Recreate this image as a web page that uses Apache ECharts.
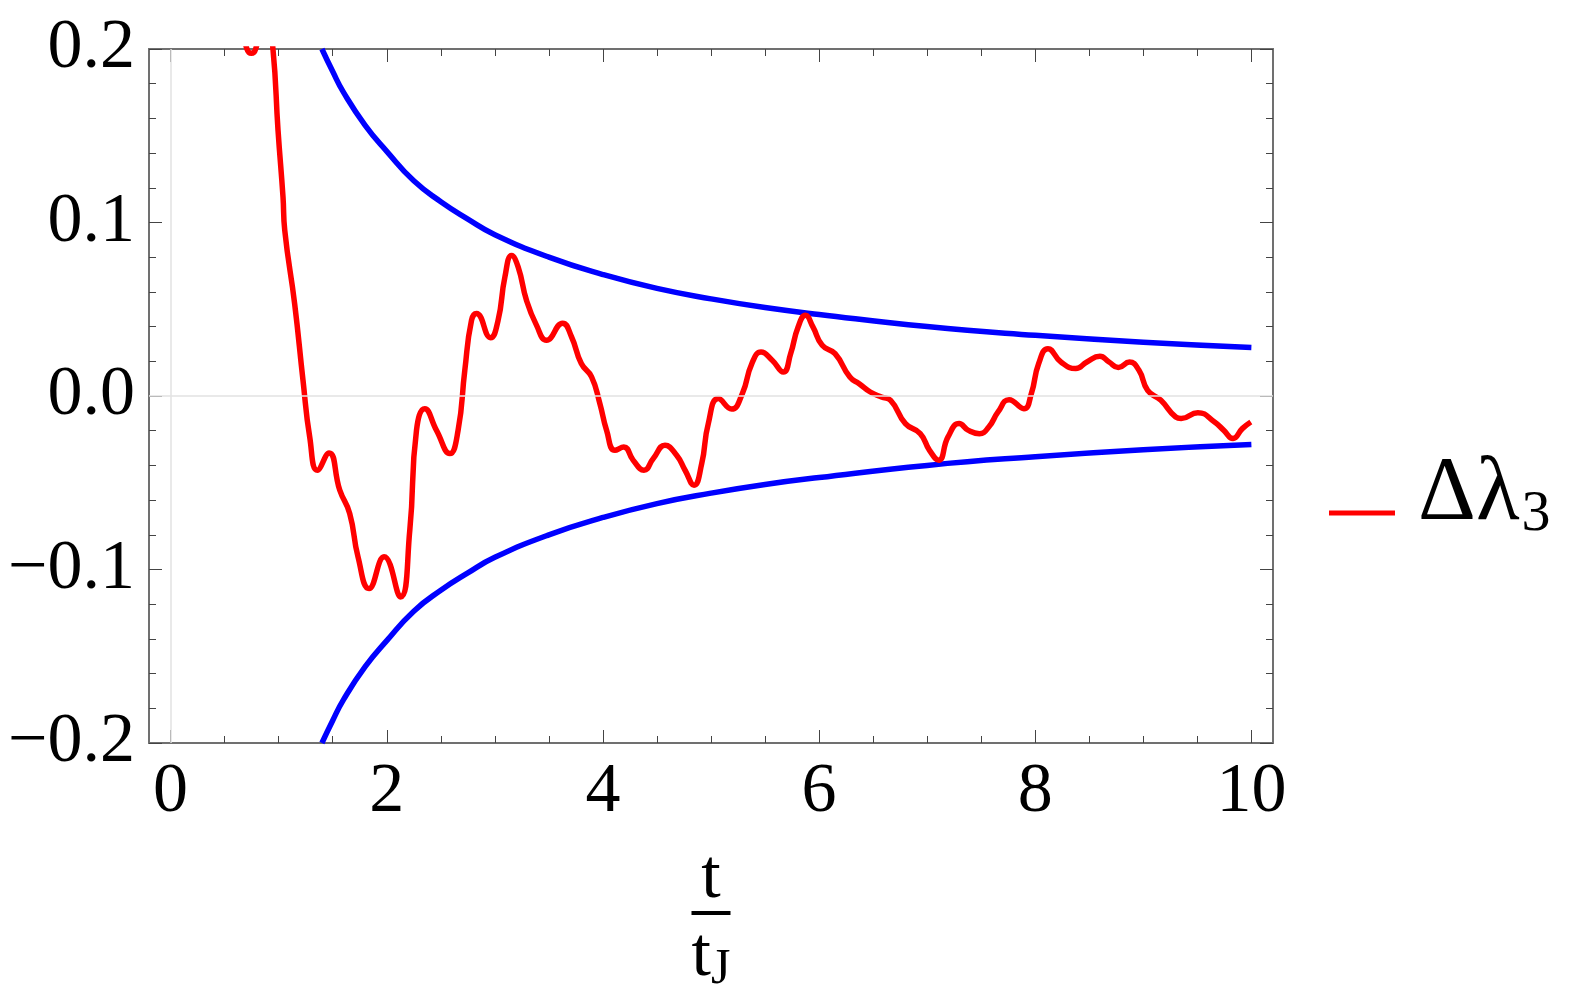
<!DOCTYPE html>
<html lang="en">
<head>
<meta charset="UTF-8">
<title>Δλ3 vs t/tJ</title>
<script src="https://cdn.jsdelivr.net/npm/echarts@6/dist/echarts.min.js"></script>
<style>
  html, body { margin: 0; padding: 0; background: #fff; }
</style>
</head>
<body>
<div id="main" style="width: 1578px;height:997px;"></div>
<script>
  // ticks
  const xMajor = [0, 2, 4, 6, 8, 10];
  const xMinor = [0.5, 1, 1.5, 2.5, 3, 3.5, 4.5, 5, 5.5, 6.5, 7, 7.5, 8.5, 9, 9.5];

  // envelope curves
  const envT = [1.4, 1.5, 1.6, 1.8, 2, 2.25, 2.5, 2.75, 3, 3.5, 4, 4.5, 5, 5.5, 6, 7, 8, 9, 10];
  const envUpper = [0.200, 0.187, 0.175, 0.156, 0.141, 0.124, 0.112, 0.102, 0.093, 0.080, 0.070, 0.062, 0.056, 0.051, 0.047, 0.040, 0.035, 0.031, 0.028];
  const envLower = [-0.200, -0.187, -0.175, -0.156, -0.141, -0.124, -0.112, -0.102, -0.093, -0.080, -0.070, -0.062, -0.056, -0.051, -0.047, -0.040, -0.035, -0.031, -0.028];

  // Δλ3 curve
  const redT = [0.60, 0.66, 0.706, 0.747, 0.787, 0.83, 0.87, 0.947, 0.994, 1.04, 1.056, 1.148, 1.225, 1.287, 1.358,
    1.466, 1.565, 1.657, 1.734, 1.836, 1.975, 2.127, 2.213, 2.275, 2.352, 2.46, 2.583, 2.66, 2.722, 2.784,
    2.83, 2.96, 3.03, 3.093, 3.155, 3.216, 3.293, 3.386, 3.478, 3.627, 3.71, 3.8, 3.895, 3.972, 4.034,
    4.111, 4.194, 4.28, 4.38, 4.466, 4.574, 4.682, 4.76, 4.843, 4.914, 4.975, 5.068, 5.19, 5.29, 5.378,
    5.463, 5.566, 5.669, 5.737, 5.806, 5.874, 5.943, 6.029, 6.148, 6.285, 6.371, 6.474, 6.577, 6.662, 6.799,
    6.936, 7.022, 7.107, 7.193, 7.296, 7.382, 7.484, 7.57, 7.656, 7.758, 7.895, 7.964, 8.032, 8.118, 8.238,
    8.375, 8.478, 8.598, 8.683, 8.769, 8.872, 8.96, 9.04, 9.163, 9.3, 9.35, 9.505, 9.659, 9.745, 9.83,
    9.916, 9.995];
  const redV = [0.26, 0.215, 0.2, 0.1975, 0.2, 0.215, 0.235, 0.2, 0.153, 0.1146, 0.0955, 0.053, 0.009, -0.0236, -0.0428,
    -0.0328, -0.0543, -0.0677, -0.0927, -0.111, -0.0927, -0.1158, -0.0774, -0.0198, -0.0073, -0.0198, -0.0332, -0.0198, 0.0148, 0.0436,
    0.0475, 0.0336, 0.0436, 0.0686, 0.081, 0.0743, 0.0551, 0.0407, 0.0321, 0.042, 0.034, 0.0187, 0.011, -0.0044, -0.0198,
    -0.0313, -0.0294, -0.037, -0.0428, -0.036, -0.0284, -0.0342, -0.0428, -0.0514, -0.039, -0.0159, -0.0015, -0.0075, 0.0014, 0.0187,
    0.0253, 0.0206, 0.0138, 0.0244, 0.0398, 0.0465, 0.0398, 0.0292, 0.0244, 0.0109, 0.0071, 0.0023, -0.0006, -0.0025, -0.0159,
    -0.0217, -0.0313, -0.037, -0.0236, -0.0159, -0.0198, -0.0217, -0.0179, -0.0092, -0.0021, -0.0073, 0.0014, 0.0187, 0.0273, 0.0196,
    0.0158, 0.0196, 0.0229, 0.0196, 0.0164, 0.0196, 0.0148, 0.0033, -0.0025, -0.0121, -0.013, -0.0096, -0.015, -0.0198, -0.0245,
    -0.0188, -0.015];

  const zip = (a, b) => a.map((v, i) => [v, b[i]]);

  const serif = '"Liberation Serif", "Times New Roman", Times, serif';
  const frameColor = '#707070';
  const tickColor = '#444';

  function xAxisOf(pos, ticks, len, labels) {
    return {
      type: 'value',
      position: pos,
      min: -0.2,
      max: 10.2,
      axisLine: { show: true, onZero: false, lineStyle: { color: frameColor, width: 2 } },
      axisTick: { show: true, inside: true, length: len, customValues: ticks, lineStyle: { color: tickColor, width: 1 } },
      axisLabel: labels ? {
        show: true, customValues: xMajor, margin: 15,
        fontFamily: serif, fontSize: 70, color: '#000'
      } : { show: false },
      splitLine: { show: false }
    };
  }

  function yAxisOf(pos, labels) {
    return {
      type: 'value',
      position: pos,
      min: -0.2,
      max: 0.2,
      interval: 0.1,
      axisLine: { show: true, onZero: false, lineStyle: { color: frameColor, width: 2 } },
      axisTick: { show: true, inside: true, length: 13, lineStyle: { color: tickColor, width: 1 } },
      minorTick: { show: true, splitNumber: 5, length: 7, lineStyle: { color: tickColor, width: 1 } },
      axisLabel: labels ? {
        show: true, margin: 14, fontFamily: serif, fontSize: 70, color: '#000',
        formatter: v => (v < -1e-9 ? '\u2212' : '') + Math.abs(v).toFixed(1)
      } : { show: false },
      splitLine: { show: false },
      minorSplitLine: { show: false }
    };
  }

  const bottomName = {
    name: '{n|t}\n{bar| }\n{n2|t}{sub|J}',
    nameLocation: 'middle',
    nameGap: 108,
    nameTextStyle: {
      rich: {
        n: { fontFamily: serif, fontSize: 70, lineHeight: 56, color: '#000', align: 'center' },
        bar: { width: 39, height: 4, fontSize: 4, lineHeight: 12, backgroundColor: '#000', align: 'center' },
        n2: { fontFamily: serif, fontSize: 70, lineHeight: 76, color: '#000', align: 'center' },
        sub: { fontFamily: serif, fontSize: 50, lineHeight: 44, verticalAlign: 'bottom', color: '#000', align: 'center' }
      }
    }
  };

  const myChart = echarts.init(document.getElementById('main'));
  const option = {
    animation: false,
    backgroundColor: '#fff',
    grid: { left: 149, right: 305, top: 49, bottom: 254, outerBoundsMode: 'none' },
    legend: {
      data: ['Δλ3'],
      left: 1329,
      top: 446,
      padding: 0,
      icon: 'rect',
      itemWidth: 66,
      itemHeight: 5,
      formatter: () => '{a|Δλ}{b|3}',
      textStyle: {
        padding: [0, 0, 36, 18],
        rich: {
          a: { fontFamily: serif, fontSize: 90, lineHeight: 88, color: '#000' },
          b: { fontFamily: serif, fontSize: 58, lineHeight: 18, padding: [40, 0, 0, 2], color: '#000' }
        }
      }
    },
    xAxis: [
      Object.assign(xAxisOf('bottom', xMajor, 13, true), bottomName),
      xAxisOf('bottom', xMinor, 7, false),
      xAxisOf('top', xMajor, 13, false),
      xAxisOf('top', xMinor, 7, false)
    ],
    yAxis: [
      yAxisOf('left', true),
      yAxisOf('right', false)
    ],
    series: [
      {
        name: 'axes',
        type: 'line',
        data: [],
        z: 1,
        silent: true,
        markLine: {
          silent: true,
          symbol: 'none',
          label: { show: false },
          lineStyle: { color: '#e2e2e2', width: 1.5, type: 'solid' },
          data: [{ xAxis: 0 }, { yAxis: 0 }]
        }
      },
      {
        name: 'upper',
        type: 'line',
        data: zip(envT, envUpper),
        showSymbol: false,
        smooth: true,
        color: '#0000ff',
        lineStyle: { width: 5.5, color: '#0000ff' }
      },
      {
        name: 'lower',
        type: 'line',
        data: zip(envT, envLower),
        showSymbol: false,
        smooth: true,
        color: '#0000ff',
        lineStyle: { width: 5.5, color: '#0000ff' }
      },
      {
        name: 'Δλ3',
        type: 'line',
        data: zip(redT, redV),
        showSymbol: false,
        smooth: 0.5,
        color: '#ff0000',
        lineStyle: { width: 5.5, color: '#ff0000' }
      }
    ]
  };
  myChart.setOption(option);
</script>
</body>
</html>
